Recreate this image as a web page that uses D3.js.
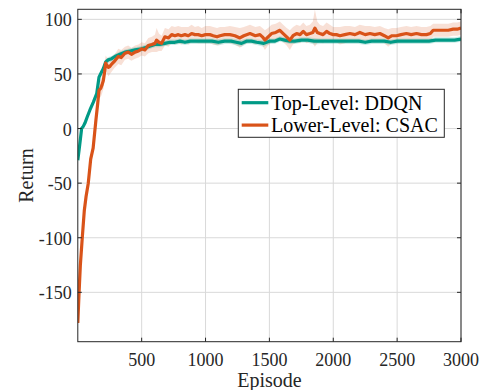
<!DOCTYPE html>
<html><head><meta charset="utf-8">
<script src="https://cdn.jsdelivr.net/npm/d3@7"></script>
<style>body{margin:0;background:#fff}svg{display:block}text{font-family:"Liberation Serif","Times New Roman",Times,serif}</style>
</head><body>
<svg id="c" width="481" height="390"></svg>
<script>
// ---- data ----
const orangeEp = [0,10,20,35,51,65,82,101,120,142,155,166,180,190,200,210,218,228,239,252,265,290,317,340,369,395,420,448,475,500,525,552,580,604,617,635,656,682,710,735,760,787,810,839,865,891,917,943,970,1000,1034,1060,1090,1113,1150,1191,1230,1269,1300,1348,1390,1426,1445,1465,1490,1517,1550,1582,1608,1635,1660,1685,1713,1740,1765,1790,1817,1840,1856,1875,1895,1920,1948,1974,2000,2025,2052,2090,2130,2170,2208,2250,2287,2325,2365,2400,2430,2460,2495,2530,2573,2610,2652,2690,2730,2760,2782,2820,2860,2900,2939,2970,3000];
const orangeMean = [-178,-150,-125,-100,-75,-62,-50,-28,-18,8,22,35,37,40,44,52,60,58,56,57,59,62,66,65,69,70,68,70,71,73,72,76,77,78,81,79,78,84,83,86,85,86,85,86,85,87,86,86,85,86,86,85,84,85,86,86,85,83,85,87,85,86,84,81,84,87,88,90,87,84,81,85,87,86,89,86,87,88,92,88,87,86,89,87,86,86,85,86,87,86,88,86,87,86,87,85,83,85,85,86,87,86,87,86,86,87,90,90,90,90,91,91,92];
const orangeSd = [2,2,2,2,2,2,3,3,3,4,6,7,8,8,8,7,7,7,8,7,7,6,7,7,6,6,6,6,6,6,6,7,7,8,11,8,7,8,8,8,8,8,8,7,8,8,7,8,7,8,8,8,8,8,7,8,8,9,8,8,8,8,8,9,8,8,8,8,8,8,9,8,8,8,8,8,8,10,17,10,8,8,8,8,7,7,8,8,7,7,7,8,7,7,7,7,8,7,7,7,7,7,7,7,7,7,6,6,6,6,6,6,6];
const tealEp = [0,15,30,43,56,75,95,121,148,166,187,200,218,239,265,291,330,369,410,448,500,550,604,640,682,720,760,800,839,880,920,969,1000,1050,1100,1150,1200,1240,1282,1320,1360,1400,1456,1500,1540,1582,1620,1660,1700,1750,1800,1850,1900,1950,2000,2050,2100,2150,2200,2250,2300,2350,2400,2450,2500,2550,2600,2650,2700,2750,2800,2850,2900,2950,3000];
const tealMean = [-29,-15,0,2,5,11,17,24,32,47,52,55,61,63,64,66,68,70,71,72,73,75,77,77,78,79,79,80,79,80,80,80,80,80,79,80,80,79,78,80,80,79,78,80,80,82,81,80,80,81,81,80,80,80,80,80,80,80,80,79,80,80,80,79,80,80,80,80,80,80,81,81,81,81,82];
const tealSd = [1.5,1.5,1.5,1.5,1.5,1.5,1.5,2,2,2,2,2.5,2.5,2.5,2.5,2.5,2.5,2.5,2.5,2.5,2.5,2.5,2.5,2.5,2.5,2.5,2.5,2.5,2.5,2.5,2.5,2.5,2.5,2.5,3,2.5,2.5,3,3,2.5,2.5,2.5,3,2.5,2.5,2.5,2.5,2.5,2.5,2.5,2.5,3,2.5,2.5,2.5,2.5,2.5,2.5,2.5,2.5,2.5,2.5,2.5,2.5,2.5,2.5,2.5,2.5,2.5,2.5,2.5,2.5,2.5,2.5,2.5];
const xTicks = [500,1000,1500,2000,2500,3000];
const yTicks = [-150,-100,-50,0,50,100];
const seriesNames = ["Top-Level: DDQN","Lower-Level: CSAC"];
const colors = ["#009A86","#D95319"];

// ---- layout ----
const L = 77.8, R = 461, T = 9.3, B = 341.7;
const svg = d3.select("#c");
const x = d3.scaleLinear().domain([0,3000]).range([L,R]);
const y = d3.scaleLinear().domain([-195.2,109.2]).range([B,T]);

// grid
const g = svg.append("g");
g.selectAll(".gx").data(xTicks).enter().append("line")
  .attr("x1",d=>x(d)).attr("x2",d=>x(d)).attr("y1",T).attr("y2",B)
  .attr("stroke","#d9d9d9").attr("stroke-width",1);
g.selectAll(".gy").data(yTicks).enter().append("line")
  .attr("y1",d=>y(d)).attr("y2",d=>y(d)).attr("x1",L).attr("x2",R)
  .attr("stroke","#d9d9d9").attr("stroke-width",1);

svg.append("clipPath").attr("id","cp").append("rect")
  .attr("x",L).attr("y",T).attr("width",R-L).attr("height",B-T);
const plot = svg.append("g").attr("clip-path","url(#cp)");

function band(ep, m, s){
  return d3.area().x((d,i)=>x(ep[i])).y0((d,i)=>y(m[i]-s[i])).y1((d,i)=>y(m[i]+s[i]))(m);
}
function line(ep, m){
  return d3.line().x((d,i)=>x(ep[i])).y((d,i)=>y(d))(m);
}
plot.append("path").attr("d",band(orangeEp,orangeMean,orangeSd)).attr("fill",colors[1]).attr("opacity",0.18);
plot.append("path").attr("d",band(tealEp,tealMean,tealSd)).attr("fill",colors[0]).attr("opacity",0.2);
plot.append("path").attr("d",line(tealEp,tealMean)).attr("fill","none").attr("stroke",colors[0]).attr("stroke-width",3.2).attr("stroke-linejoin","round");
plot.append("path").attr("d",line(orangeEp,orangeMean)).attr("fill","none").attr("stroke",colors[1]).attr("stroke-width",3.2).attr("stroke-linejoin","round");

// axes box
const ax = "#262626";
svg.append("rect").attr("x",L).attr("y",T).attr("width",R-L).attr("height",B-T)
  .attr("fill","none").attr("stroke",ax).attr("stroke-width",1);
const tk = 4;
xTicks.forEach(t=>{
  svg.append("line").attr("x1",x(t)).attr("x2",x(t)).attr("y1",B).attr("y2",B-tk).attr("stroke",ax);
  svg.append("line").attr("x1",x(t)).attr("x2",x(t)).attr("y1",T).attr("y2",T+tk).attr("stroke",ax);
});
yTicks.forEach(t=>{
  svg.append("line").attr("y1",y(t)).attr("y2",y(t)).attr("x1",L).attr("x2",L+tk).attr("stroke",ax);
  svg.append("line").attr("y1",y(t)).attr("y2",y(t)).attr("x1",R).attr("x2",R-tk).attr("stroke",ax);
});
svg.selectAll(".xl").data(xTicks).enter().append("text")
  .attr("x",d=>x(d)).attr("y",B+24.3).attr("text-anchor","middle")
  .attr("font-size",18).attr("fill","#262626").text(d=>d);
svg.selectAll(".yl").data(yTicks).enter().append("text")
  .attr("x",L-6).attr("y",d=>y(d)+7).attr("text-anchor","end")
  .attr("font-size",18).attr("fill","#262626").text(d=>d);
svg.append("text").attr("x",(L+R)/2).attr("y",386.7).attr("text-anchor","middle")
  .attr("font-size",20).attr("fill","#262626").text("Episode");
svg.append("text").attr("transform",`translate(32.5,${(T+B)/2}) rotate(-90)`).attr("text-anchor","middle")
  .attr("font-size",20).attr("fill","#262626").text("Return");

const lg = svg.append("g");
lg.append("rect").attr("x",238.3).attr("y",89.3).attr("width",206).attr("height",48)
  .attr("fill","#fff").attr("stroke",ax).attr("stroke-width",1);
seriesNames.forEach((n,i)=>{
  const cy = 102.7 + i*22.4;
  lg.append("line").attr("x1",241.7).attr("x2",268.3).attr("y1",cy).attr("y2",cy)
    .attr("stroke",colors[i]).attr("stroke-width",3.2);
  lg.append("text").attr("x",271).attr("y",cy+7.3).attr("font-size",20)
    .attr("fill","#000").text(n);
});
</script>
</body></html>
